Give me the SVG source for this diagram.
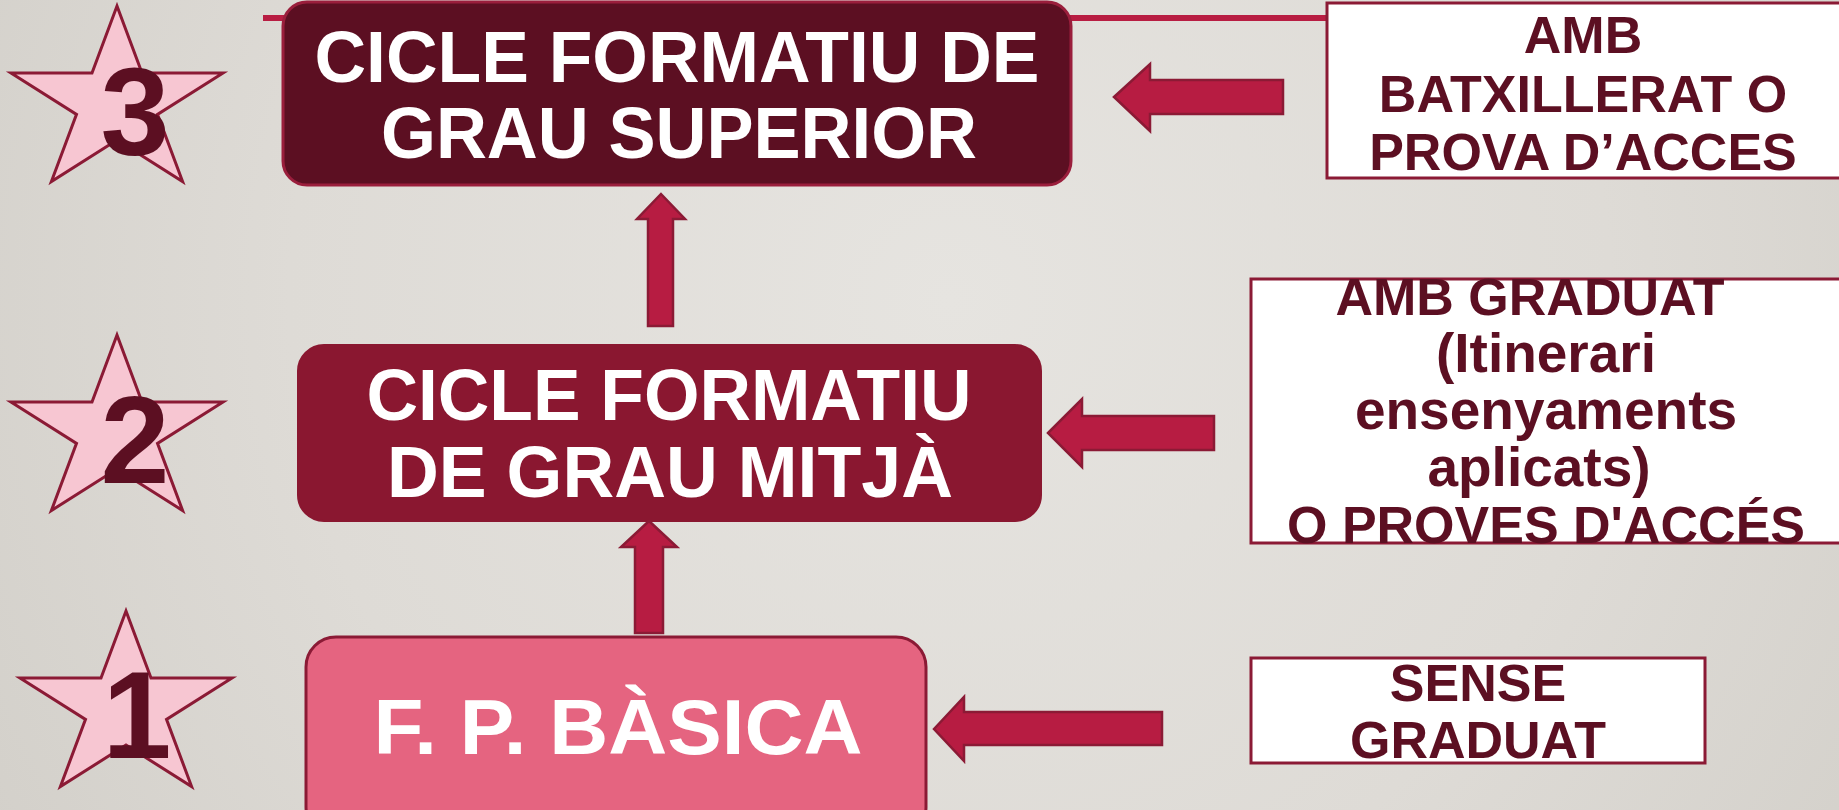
<svg xmlns="http://www.w3.org/2000/svg" xmlns:xlink="http://www.w3.org/1999/xlink" width="1839" height="810" viewBox="0 0 1839 810">
  <defs>
    <radialGradient id="bg" cx="950" cy="300" r="1100" gradientUnits="userSpaceOnUse">
      <stop offset="0" stop-color="#e6e4e0"/>
      <stop offset="0.6" stop-color="#dedbd6"/>
      <stop offset="1" stop-color="#d3d0ca"/>
    </radialGradient>
    <polygon id="star" points="0,-97 25,-30 106,-30 40.5,11.4 65.6,78.5 0,37.1 -65.6,78.5 -40.5,11.4 -106,-30 -25,-30"/>
    <style>
      .star { fill: #f7c6d2; stroke: #8b1a35; stroke-width: 3; stroke-linejoin: miter; }
      .digit { font-family: "Liberation Sans", Arial, sans-serif; font-weight: bold; font-size: 124px; fill: #5c0f22; text-anchor: middle; }
      .boxtxt { font-family: "Liberation Sans", Arial, sans-serif; font-weight: bold; fill: #ffffff; text-anchor: middle; }
      .sidetxt { font-family: "Liberation Sans", Arial, sans-serif; font-weight: bold; font-size: 52px; fill: #5c0f22; text-anchor: middle; }
      .low { font-size: 55px; }
      .side { fill: #ffffff; stroke: #8b1a35; stroke-width: 3; }
      .arrow { fill: #b71c42; stroke: #8b1a35; stroke-width: 2.5; stroke-linejoin: miter; }
    </style>
  </defs>

  <rect x="0" y="0" width="1839" height="810" fill="url(#bg)"/>

  <!-- top decorative line -->
  <rect x="263" y="15" width="1066" height="6" fill="#b81d42"/>

  <g id="node-superior">
    <rect x="283" y="2" width="788" height="183" rx="24" ry="24" fill="#5c0f22" stroke="#9a1e3c" stroke-width="3"/>
    <text class="boxtxt" font-size="72" x="677" y="82" textLength="725" lengthAdjust="spacingAndGlyphs">CICLE FORMATIU DE</text>
    <text class="boxtxt" font-size="72" x="679" y="158" textLength="596" lengthAdjust="spacingAndGlyphs">GRAU SUPERIOR</text>
  </g>

  <g id="node-mitja">
    <rect x="298" y="345" width="743" height="176" rx="26" ry="26" fill="#8a1730" stroke="#8a1730" stroke-width="2"/>
    <text class="boxtxt" font-size="72" x="669" y="420" textLength="605" lengthAdjust="spacingAndGlyphs">CICLE FORMATIU</text>
    <text class="boxtxt" font-size="72" x="670" y="497" textLength="566" lengthAdjust="spacingAndGlyphs">DE GRAU MITJÀ</text>
  </g>

  <g id="node-basica">
    <rect x="306" y="637" width="620" height="200" rx="30" ry="30" fill="#e56480" stroke="#8b1a35" stroke-width="3"/>
    <text class="boxtxt" font-size="78" x="618" y="754" textLength="489" lengthAdjust="spacingAndGlyphs">F. P. BÀSICA</text>
  </g>

  <g id="node-batxillerat">
    <rect class="side" x="1327" y="3" width="530" height="175"/>
    <text class="sidetxt" x="1583" y="53">AMB</text>
    <text class="sidetxt" x="1583" y="112">BATXILLERAT O</text>
    <text class="sidetxt" x="1583" y="170">PROVA D’ACCES</text>
  </g>

  <g id="node-graduat">
    <rect class="side" x="1251" y="279" width="610" height="264"/>
    <text class="sidetxt" x="1530" y="315">AMB GRADUAT</text>
    <text class="sidetxt low" x="1546" y="372">(Itinerari</text>
    <text class="sidetxt low" x="1546" y="429">ensenyaments</text>
    <text class="sidetxt low" x="1539" y="486">aplicats)</text>
    <text class="sidetxt" x="1546" y="543">O PROVES D'ACCÉS</text>
  </g>

  <g id="node-sense">
    <rect class="side" x="1251" y="658" width="454" height="105"/>
    <text class="sidetxt" x="1478" y="701">SENSE</text>
    <text class="sidetxt" x="1478" y="758">GRADUAT</text>
  </g>

  <g id="connectors">
    <polygon class="arrow" points="661,194 685,219 673,219 673,326 648,326 648,219 637,219"/>
    <polygon class="arrow" points="649,521 677,547 663,547 663,633 635,633 635,547 621,547"/>
    <polygon class="arrow" points="1114,97 1150,64 1150,80 1283,80 1283,114 1150,114 1150,131"/>
    <polygon class="arrow" points="1048,433 1082,399 1082,416 1214,416 1214,450 1082,450 1082,467"/>
    <polygon class="arrow" points="934,729 964,697 964,712 1162,712 1162,745 964,745 964,761"/>
  </g>

  <g id="star-3">
    <use xlink:href="#star" class="star" x="117" y="103"/>
    <text class="digit" x="135" y="155">3</text>
  </g>
  <g id="star-2">
    <use xlink:href="#star" class="star" x="117" y="432"/>
    <text class="digit" x="135" y="483">2</text>
  </g>
  <g id="star-1">
    <use xlink:href="#star" class="star" x="126" y="708"/>
    <text class="digit" x="137" y="758">1</text>
  </g>
</svg>
